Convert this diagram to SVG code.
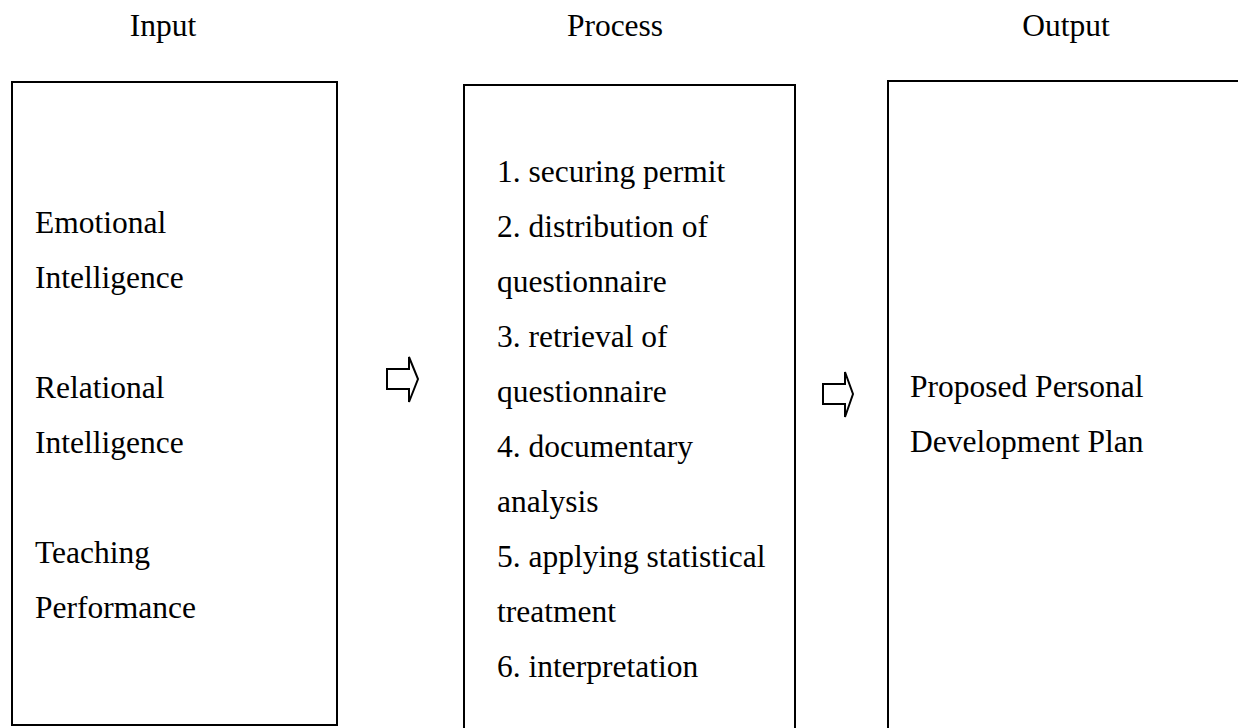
<svg xmlns="http://www.w3.org/2000/svg" width="1238" height="728" viewBox="0 0 1238 728">
<style>
text{font-family:"Liberation Serif","Times New Roman",serif;font-size:31.5px;fill:#000}
.box{fill:none;stroke:#000;stroke-width:2}
.arr{fill:#fff;stroke:#000;stroke-width:2;stroke-linejoin:miter}
.h{text-anchor:middle}
</style>
<rect width="1238" height="728" fill="#fff"/>
<g id="headers">
<text class="h" x="163" y="36">Input</text>
<text class="h" x="615" y="36">Process</text>
<text class="h" x="1066" y="36">Output</text>
</g>
<g id="input">
<rect class="box" x="12" y="82" width="325" height="643"/>
<text x="35" y="233">Emotional</text>
<text x="35" y="288">Intelligence</text>
<text x="35" y="398">Relational</text>
<text x="35" y="453">Intelligence</text>
<text x="35" y="563">Teaching</text>
<text x="35" y="618">Performance</text>
</g>
<g id="process">
<rect class="box" x="464" y="85" width="331" height="660"/>
<text x="497" y="182">1. securing permit</text>
<text x="497" y="237">2. distribution of</text>
<text x="497" y="292">questionnaire</text>
<text x="497" y="347">3. retrieval of</text>
<text x="497" y="402">questionnaire</text>
<text x="497" y="457">4. documentary</text>
<text x="497" y="512">analysis</text>
<text x="497" y="567">5. applying statistical</text>
<text x="497" y="622">treatment</text>
<text x="497" y="677">6. interpretation</text>
</g>
<g id="output">
<rect class="box" x="888" y="81" width="360" height="670"/>
<text x="910" y="397">Proposed Personal</text>
<text x="910" y="452">Development Plan</text>
</g>
<g id="connectors">
<polygon class="arr" points="387,369 409,369 409,357 418,379 409,402 409,389 387,389"/>
<polygon class="arr" points="823,384 845,384 845,372 853,394 845,417 845,404 823,404"/>
</g>
</svg>
